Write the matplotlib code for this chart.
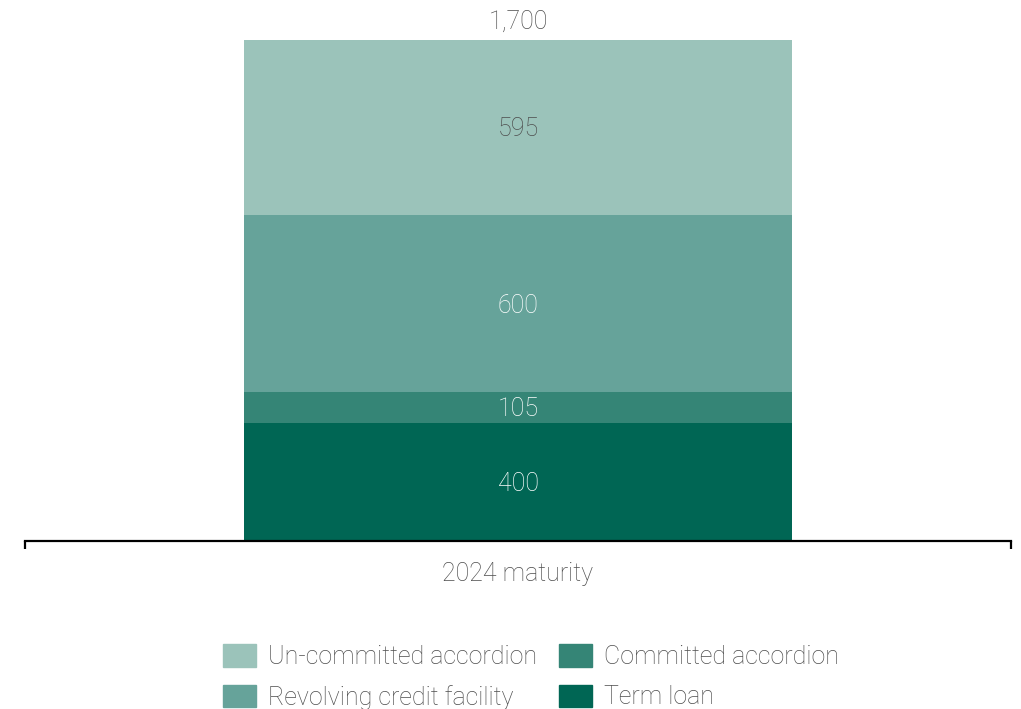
import matplotlib
matplotlib.use("Agg")
import matplotlib.pyplot as plt
from matplotlib.patches import Patch

categories = ["2024 maturity"]
series_names = ["Term loan", "Committed accordion", "Revolving credit facility", "Un-committed accordion"]
series_values = [400, 105, 600, 595]
series_colors = ["#006654", "#358576", "#66A39A", "#9BC3BA"]
label_colors = ["white", "white", "white", "#4d4d4d"]
total_label = "1,700"

plt.rcParams['font.family'] = ['Roboto', 'DejaVu Sans']
txt = "#4d4d4d"
FS = 18

fig = plt.figure(figsize=(10.21, 7.09), dpi=100)
ax = fig.add_axes([25/1021, 168/709, 986/1021, 501/709])

bottom = 0
for name, v, c, lc in zip(series_names, series_values, series_colors, label_colors):
    ax.bar(0, v, width=0.556, bottom=bottom, color=c, label=name)
    ax.text(0, bottom + v/2 - 6, f"{v:,}", ha="center", va="center", color=lc,
            fontsize=FS, fontweight="light")
    bottom += v
total = sum(series_values)
ax.text(0, total + 22, total_label, ha="center", va="bottom", color=txt,
        fontsize=FS, fontweight="light", clip_on=False)

ax.set_xlim(-0.5, 0.5)
ax.set_ylim(0, total)
for s in ["top", "right", "left"]:
    ax.spines[s].set_visible(False)
ax.spines["bottom"].set_linewidth(1.6)
ax.set_yticks([])
ax.set_xticks([0])
ax.set_xticklabels(categories, fontsize=FS, color=txt, fontweight="light")
ax.tick_params(axis="x", which="major", length=0, pad=15)
ax.set_xticks([-0.5, 0.5], minor=True)
ax.tick_params(axis="x", which="minor", length=6, width=1.6, direction="out")

idx = {n: i for i, n in enumerate(series_names)}
order = ["Un-committed accordion", "Revolving credit facility", "Committed accordion", "Term loan"]
handles = [Patch(color=series_colors[idx[n]]) for n in order]
leg = fig.legend(handles, order, ncol=2, loc="center", bbox_to_anchor=(531/1021, 1 - 677/709),
                 frameon=False, fontsize=FS, handlelength=1.32, handleheight=1.0,
                 handletextpad=0.48, columnspacing=0.88, labelspacing=0.62)
for t in leg.get_texts():
    t.set_color(txt)
    t.set_fontweight("light")

fig.savefig("out.png", dpi=100)
